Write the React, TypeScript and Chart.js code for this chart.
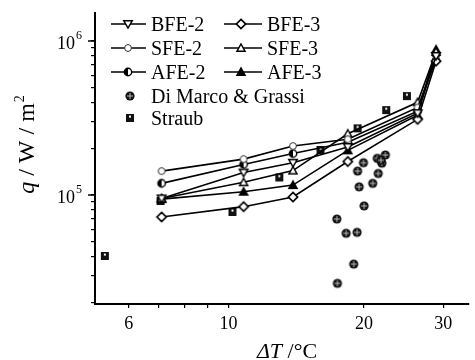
import React, { useEffect, useRef } from 'react';
import { Chart, registerables } from 'chart.js';
Chart.register(...registerables);

// ---- data ----
const feX = [7.1, 10.8, 13.9, 18.4, 26.3, 28.9];
const bfe2 = [0.95e5, 1.40e5, 1.62e5, 2.05e5, 3.4e5, 8.0e5];
const bfe3 = [0.72e5, 0.84e5, 0.97e5, 1.65e5, 3.1e5, 7.4e5];
const sfe2 = [1.43e5, 1.71e5, 2.08e5, 2.3e5, 3.7e5, 7.6e5];
const sfe3 = [0.95e5, 1.21e5, 1.44e5, 2.5e5, 4.0e5, 8.5e5];
const afe2 = [1.19e5, 1.58e5, 1.86e5, 2.2e5, 3.5e5, 8.2e5];
const afe3 = [0.94e5, 1.05e5, 1.16e5, 1.95e5, 3.3e5, 8.8e5];

const straubX = [5.31, 7.06, 10.2, 12.96, 16.0, 19.35, 22.4, 24.9];
const straubY = [4.02e4, 0.915e5, 0.776e5, 1.30e5, 1.96e5, 2.71e5, 3.56e5, 4.39e5];

const dmX = [19.94, 19.35, 21.4, 22.3, 21.9, 21.5, 20.9, 19.5, 20.0, 17.4, 18.25, 19.3, 18.97, 17.45, 21.8];
const dmY = [1.62e5, 1.43e5, 1.73e5, 1.82e5, 1.61e5, 1.38e5, 1.19e5, 1.13e5, 0.85e5, 0.698e5, 0.564e5, 0.572e5, 0.356e5, 0.267e5, 1.68e5];

const xTickValues = [6, 7, 8, 9, 10, 20, 30];
const xLabeled = [6, 10, 20, 30];
const yTickValues = [2e4, 3e4, 4e4, 5e4, 6e4, 7e4, 8e4, 9e4, 1e5, 2e5, 3e5, 4e5, 5e5, 6e5, 7e5, 8e5, 9e5, 1e6];
const yMajor = [1e5, 1e6];
const yMajorExp = ['5', '6'];

const seriesNames = ['BFE-2', 'BFE-3', 'SFE-2', 'SFE-3', 'AFE-2', 'AFE-3', 'Di Marco & Grassi', 'Straub'];

const FONT = '"Liberation Serif", "Times New Roman", serif';

function makeMarker(kind: string): HTMLCanvasElement {
  const s = 14;
  const c = document.createElement('canvas');
  c.width = s;
  c.height = s;
  const g = c.getContext('2d')!;
  const m = s / 2;
  g.lineWidth = 1.4;
  g.strokeStyle = '#000';
  g.fillStyle = '#fff';
  switch (kind) {
    case 'triDownOpen':
      g.beginPath(); g.moveTo(m - 4.3, m - 3.3); g.lineTo(m + 4.3, m - 3.3); g.lineTo(m, m + 4.1); g.closePath(); g.fill(); g.stroke();
      break;
    case 'triUpOpen':
      g.beginPath(); g.moveTo(m - 4.1, m + 3.3); g.lineTo(m + 4.1, m + 3.3); g.lineTo(m, m - 4.1); g.closePath(); g.fill(); g.stroke();
      break;
    case 'triUpFilled':
      g.fillStyle = '#000';
      g.beginPath(); g.moveTo(m - 4.1, m + 3.3); g.lineTo(m + 4.1, m + 3.3); g.lineTo(m, m - 4.1); g.closePath(); g.fill(); g.stroke();
      break;
    case 'diamondOpen':
      g.lineWidth = 1.7;
      g.beginPath(); g.moveTo(m, m - 4.6); g.lineTo(m + 4.6, m); g.lineTo(m, m + 4.6); g.lineTo(m - 4.6, m); g.closePath(); g.fill(); g.stroke();
      break;
    case 'circleOpen':
      g.lineWidth = 1;
      g.strokeStyle = '#333';
      g.beginPath(); g.arc(m, m, 3.4, 0, Math.PI * 2); g.fill(); g.stroke();
      break;
    case 'circleHalf':
      g.beginPath(); g.arc(m, m, 3.7, 0, Math.PI * 2); g.fill();
      g.fillStyle = '#000';
      g.beginPath(); g.arc(m, m, 3.7, Math.PI / 2, (3 * Math.PI) / 2); g.closePath(); g.fill();
      g.beginPath(); g.arc(m, m, 3.7, 0, Math.PI * 2); g.stroke();
      break;
    case 'dimarco':
      g.fillStyle = '#111';
      g.beginPath(); g.arc(m, m, 4.6, 0, Math.PI * 2); g.fill();
      g.strokeStyle = '#ccc';
      g.lineWidth = 0.9;
      g.beginPath(); g.moveTo(m - 3, m); g.lineTo(m + 3, m); g.moveTo(m, m - 3); g.lineTo(m, m + 3); g.stroke();
      break;
    case 'straub':
      g.fillStyle = '#111';
      g.fillRect(m - 4, m - 4, 8, 8);
      g.fillStyle = '#fff';
      g.fillRect(m - 1, m - 2.4, 2, 2);
      break;
  }
  return c;
}

export default function App() {
  const ref = useRef<HTMLCanvasElement | null>(null);

  useEffect(() => {
    document.body.style.margin = '0';
    const canvas = ref.current;
    if (!canvas) return;

    const markerKinds = ['triDownOpen', 'diamondOpen', 'circleOpen', 'triUpOpen', 'circleHalf', 'triUpFilled', 'dimarco', 'straub'];
    const markers = markerKinds.map(makeMarker);

    const seriesX = [feX, feX, feX, feX, feX, feX, dmX, straubX];
    const seriesY = [bfe2, bfe3, sfe2, sfe3, afe2, afe3, dmY, straubY];

    const datasets = seriesNames.map((name, i) => ({
      label: name,
      data: seriesX[i].map((x, j) => ({ x, y: seriesY[i][j] })),
      showLine: i < 6,
      borderColor: '#000',
      backgroundColor: '#000',
      borderWidth: 1.6,
      pointStyle: markers[i] as any,
      pointRadius: 5,
      fill: false,
      tension: 0,
    }));

    const legendRows = [
      { idx: 0, x1: 111, x2: 146, mx: 128, tx: 151, y: 24, line: true },
      { idx: 1, x1: 224, x2: 262, mx: 241, tx: 267, y: 24, line: true },
      { idx: 2, x1: 111, x2: 146, mx: 128, tx: 151, y: 48, line: true },
      { idx: 3, x1: 224, x2: 262, mx: 241, tx: 267, y: 48, line: true },
      { idx: 4, x1: 111, x2: 146, mx: 128, tx: 151, y: 72, line: true },
      { idx: 5, x1: 224, x2: 262, mx: 241, tx: 267, y: 72, line: true },
      { idx: 6, x1: 0, x2: 0, mx: 130, tx: 151, y: 96, line: false },
      { idx: 7, x1: 0, x2: 0, mx: 130, tx: 151, y: 118, line: false },
    ];

    const deco = {
      id: 'deco',
      afterDraw(chart: any) {
        const ctx: CanvasRenderingContext2D = chart.ctx;
        const ys = chart.scales.y;
        const area = chart.chartArea;
        ctx.save();
        ctx.fillStyle = '#000';
        ctx.strokeStyle = '#000';

        // y major ticks (longer) and labels 10^n
        yMajor.forEach((v, i) => {
          const py = ys.getPixelForValue(v);
          ctx.lineWidth = 1.5;
          ctx.beginPath();
          ctx.moveTo(area.left - 7, py);
          ctx.lineTo(area.left, py);
          ctx.stroke();
          ctx.font = `18px ${FONT}`;
          ctx.textAlign = 'right';
          ctx.textBaseline = 'alphabetic';
          ctx.fillText('10', 75, py + 7.5);
          ctx.font = `12px ${FONT}`;
          ctx.textAlign = 'left';
          ctx.fillText(yMajorExp[i], 76, py - 2.5);
        });

        // x title: ΔT /°C
        ctx.textBaseline = 'alphabetic';
        ctx.textAlign = 'left';
        const f1 = `italic 22px ${FONT}`;
        const f2 = `22px ${FONT}`;
        ctx.font = f1;
        const w1 = ctx.measureText('ΔT').width;
        ctx.font = f2;
        const w2 = ctx.measureText(' /°C').width;
        const sx = 287 - (w1 + w2) / 2;
        ctx.font = f1;
        ctx.fillText('ΔT', sx, 358);
        ctx.font = f2;
        ctx.fillText(' /°C', sx + w1, 358);

        // y title: q / W / m²
        ctx.save();
        ctx.translate(34, 145);
        ctx.rotate(-Math.PI / 2);
        const fy1 = `italic 24px ${FONT}`;
        const fy2 = `24px ${FONT}`;
        const fy3 = `14px ${FONT}`;
        ctx.font = fy1;
        const a1 = ctx.measureText('q').width;
        ctx.font = fy2;
        const a2 = ctx.measureText(' / W / m').width;
        ctx.font = fy3;
        const a3 = ctx.measureText('2').width;
        const tx = -(a1 + a2 + a3) / 2;
        ctx.font = fy1;
        ctx.fillText('q', tx, 0);
        ctx.font = fy2;
        ctx.fillText(' / W / m', tx + a1, 0);
        ctx.font = fy3;
        ctx.fillText('2', tx + a1 + a2 + 1, -10);
        ctx.restore();

        // legend
        legendRows.forEach((r) => {
          if (r.line) {
            ctx.lineWidth = 1.5;
            ctx.beginPath();
            ctx.moveTo(r.x1, r.y);
            ctx.lineTo(r.x2, r.y);
            ctx.stroke();
          }
          const mk = markers[r.idx];
          ctx.drawImage(mk, r.mx - mk.width / 2, r.y - mk.height / 2);
          ctx.font = `20px ${FONT}`;
          ctx.textAlign = 'left';
          ctx.textBaseline = 'alphabetic';
          ctx.fillText(seriesNames[r.idx], r.tx, r.y + 7);
        });
        ctx.restore();
      },
    };

    const chart = new Chart(canvas, {
      type: 'line',
      data: { datasets: datasets as any },
      plugins: [deco],
      options: {
        animation: false,
        responsive: false,
        maintainAspectRatio: false,
        layout: { padding: { top: 13, left: 0, right: 0, bottom: 0 } },
        plugins: { legend: { display: false }, tooltip: { enabled: false } },
        scales: {
          x: {
            type: 'logarithmic',
            min: 5.05,
            max: 34.1,
            position: 'bottom',
            afterBuildTicks: (s: any) => {
              s.ticks = xTickValues.map((v) => ({ value: v }));
            },
            afterFit: (s: any) => {
              s.height = 56;
            },
            border: { display: true, color: '#000', width: 2 },
            grid: { display: true, drawOnChartArea: false, drawTicks: true, tickLength: 4, color: '#000', lineWidth: 1.2 },
            ticks: {
              autoSkip: false,
              maxRotation: 0,
              padding: 5,
              color: '#000',
              font: { family: FONT, size: 18 },
              callback: (v: any) => (xLabeled.includes(Number(v)) ? String(v) : ''),
            },
          },
          y: {
            type: 'logarithmic',
            min: 1.96e4,
            max: 1.52e6,
            afterBuildTicks: (s: any) => {
              s.ticks = yTickValues.map((v) => ({ value: v }));
            },
            afterFit: (s: any) => {
              s.width = 95;
            },
            border: { display: true, color: '#000', width: 2 },
            grid: { display: true, drawOnChartArea: false, drawTicks: true, tickLength: 4, color: '#000', lineWidth: 1.2 },
            ticks: { autoSkip: false, callback: () => '' },
          },
        },
      } as any,
    });

    return () => chart.destroy();
  }, []);

  return (
    <div style={{ width: 475, height: 360 }}>
      <canvas ref={ref} width={475} height={360} style={{ display: 'block' }} />
    </div>
  );
}
